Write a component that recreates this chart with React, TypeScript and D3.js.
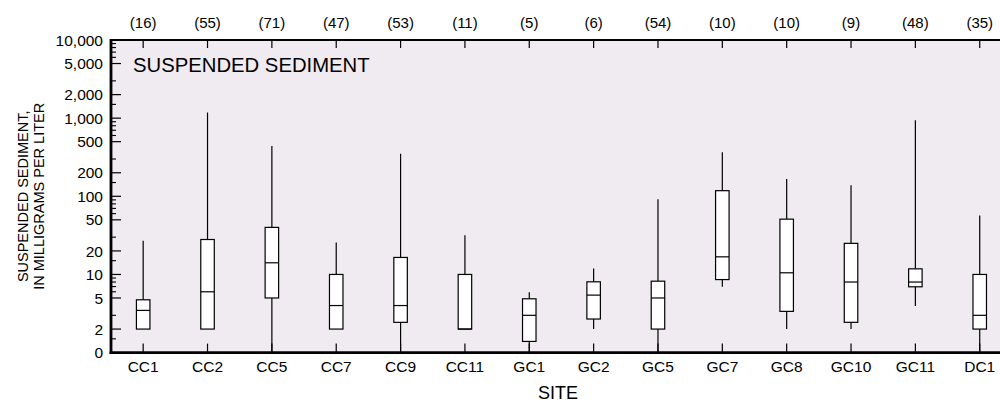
import React from "react";
import * as d3 from "d3";

const sites = ["CC1", "CC2", "CC5", "CC7", "CC9", "CC11", "GC1", "GC2", "GC5", "GC7", "GC8", "GC10", "GC11", "DC1"];
const counts = [16, 55, 71, 47, 53, 11, 5, 6, 54, 10, 10, 9, 48, 35];
const maxVals = [27, 1180, 440, 25.6, 350, 31.8, 5.9, 11.9, 92, 365, 166, 138, 943, 57];
const q3Vals = [4.74, 28, 40, 10, 16.5, 10, 4.88, 8.05, 8.2, 118, 51, 25, 11.8, 10];
const medianVals = [3.47, 6, 14.1, 4, 4, 2, 3, 5.44, 5, 16.8, 10.5, 8, 8, 3];
const q1Vals = [2, 2, 5, 2, 2.44, 2, 1.39, 2.69, 2, 8.6, 3.37, 2.44, 6.95, 2];
const minVals = [2, 2, 0, 2, 0, 2, 0, 2, 0, 6.95, 2, 2, 3.94, 0];

const majorTicks = [1, 2, 5, 10, 20, 50, 100, 200, 500, 1000, 2000, 5000, 10000];
const majorLabels = ["0", "2", "5", "10", "20", "50", "100", "200", "500", "1,000", "2,000", "5,000", "10,000"];
const minorMultipliers = [1.5, 3, 6, 7, 8, 9];

const W = 1000;
const H = 403;
const left = 111;
const top = 40;
const bottom = 352.6;
const step = 64.35;
const right = left + step * sites.length;
const font = "'Liberation Sans', Arial, Helvetica, sans-serif";

export default function App() {
  const x = d3.scaleBand<string>().domain(sites).range([left, right]).padding(0);
  const yLog = d3.scaleLog().domain([1, 10000]).range([bottom, top]);
  const y = (v: number) => yLog(Math.max(v, 1));
  const cx = (s: string) => (x(s) as number) + x.bandwidth() / 2;
  const boxW = 13.5;

  const minorTicks: number[] = [];
  [1, 10, 100, 1000].forEach((d) => minorMultipliers.forEach((m) => minorTicks.push(d * m)));

  return (
    <svg width={W} height={H} style={{ position: "absolute", left: 0, top: 0, display: "block" }} fontFamily={font}>
      <rect x={left} y={top} width={right - left} height={bottom - top} fill="#efebf1" />
      {/* boxes */}
      {sites.map((s, i) => {
        const c = cx(s);
        return (
          <g key={s}>
            <line x1={c} x2={c} y1={y(q3Vals[i])} y2={y(maxVals[i])} stroke="#000" strokeWidth={1.2} />
            <line x1={c} x2={c} y1={y(q1Vals[i])} y2={y(minVals[i])} stroke="#000" strokeWidth={1.2} />
            <rect
              x={c - boxW / 2}
              y={y(q3Vals[i])}
              width={boxW}
              height={y(q1Vals[i]) - y(q3Vals[i])}
              fill="#fff"
              stroke="#000"
              strokeWidth={1.2}
            />
            <line x1={c - boxW / 2} x2={c + boxW / 2} y1={y(medianVals[i])} y2={y(medianVals[i])} stroke="#000" strokeWidth={1.2} />
          </g>
        );
      })}
      {/* category ticks */}
      {sites.map((s) => (
        <g key={"t" + s}>
          <line x1={cx(s)} x2={cx(s)} y1={top} y2={top + 8} stroke="#000" strokeWidth={1.2} />
          <line x1={cx(s)} x2={cx(s)} y1={bottom} y2={bottom - 9} stroke="#000" strokeWidth={1.2} />
        </g>
      ))}
      {/* y ticks */}
      {minorTicks.map((v) => (
        <line key={"m" + v} x1={left} x2={left + 5} y1={yLog(v)} y2={yLog(v)} stroke="#000" strokeWidth={1.1} />
      ))}
      {majorTicks.map((v, i) => (
        <g key={"M" + v}>
          <line x1={left} x2={left + 10} y1={yLog(v)} y2={yLog(v)} stroke="#000" strokeWidth={1.2} />
          <text x={left - 8} y={yLog(v)} dy="0.36em" textAnchor="end" fontSize={15.5} fill="#000">
            {majorLabels[i]}
          </text>
        </g>
      ))}
      {/* frame */}
      <line x1={left} x2={W + 20} y1={top} y2={top} stroke="#000" strokeWidth={2} />
      <line x1={left} x2={left} y1={top - 1} y2={bottom + 1.5} stroke="#000" strokeWidth={2.8} />
      <line x1={left - 1.4} x2={W + 20} y1={bottom} y2={bottom} stroke="#000" strokeWidth={2.8} />
      {/* counts */}
      {sites.map((s, i) => (
        <text key={"c" + s} x={cx(s)} y={27.5} textAnchor="middle" fontSize={15} fill="#000">
          ({counts[i]})
        </text>
      ))}
      {/* category labels */}
      {sites.map((s) => (
        <text key={"l" + s} x={cx(s)} y={372} textAnchor="middle" fontSize={15.5} fill="#000">
          {s}
        </text>
      ))}
      <text x={133} y={72.3} fontSize={20.3} fill="#000">
        SUSPENDED SEDIMENT
      </text>
      <text x={558} y={398.5} textAnchor="middle" fontSize={18} fill="#000">
        SITE
      </text>
      <g transform={`translate(0, ${(top + bottom) / 2}) rotate(-90)`}>
        <text x={0} y={27.5} textAnchor="middle" fontSize={14.5} fill="#000">
          SUSPENDED SEDIMENT,
        </text>
        <text x={0} y={43.5} textAnchor="middle" fontSize={14.5} fill="#000">
          IN MILLIGRAMS PER LITER
        </text>
      </g>
    </svg>
  );
}
